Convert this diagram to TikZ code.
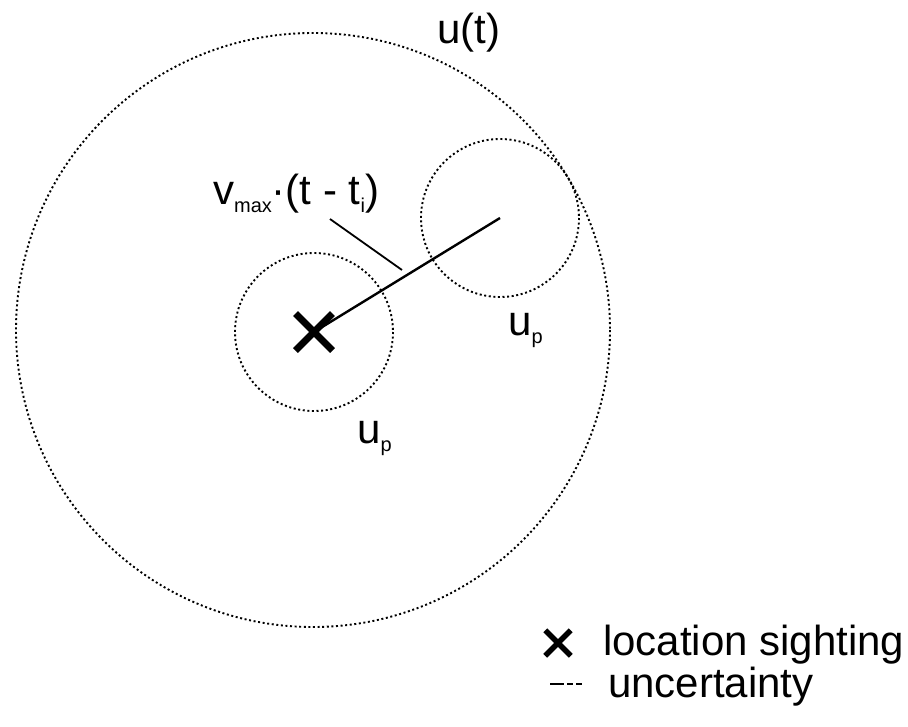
\documentclass[tikz,border=0pt]{standalone}
\usepackage{fontspec}
\setmainfont{Liberation Sans}
\usetikzlibrary{shapes.misc}
\newcommand{\lowsub}[1]{\raisebox{-0.2em}{\fontsize{20}{20}\selectfont #1}}
\tikzset{
  uncert/.style={line width=1.9pt, dash pattern=on 2pt off 2.6pt},
  sighting/.style={cross out, draw, inner sep=0pt, minimum size=30pt, line width=7pt},
  lbl/.style={inner sep=0pt, anchor=base west, font=\fontsize{42}{50}\selectfont}
}
\begin{document}
\begin{tikzpicture}[x=1pt, y=-1pt]
  \useasboundingbox (0,0) rectangle (908,726);
  % Uncertainty regions
  \draw[uncert] (313,330) circle (297);
  \draw[uncert] (314,332) circle (79);
  \draw[uncert] (500,218) circle (79);
  \node[lbl] (ut) at (437,43) {u(t)};
  \node[lbl] (up1) at (357,443) {u\lowsub{p}};
  \node[lbl] (up2) at (508,335) {u\lowsub{p}};

  % Sighting and maximum movement
  \coordinate (reach) at (500,218);
  \node[sighting] (mark) at (314,332) {};
  \draw[line width=2.4pt] (mark.center) -- (reach);
  \node[lbl] (speed) at (213,204) {v\lowsub{max}·(t - t\lowsub{i})};
  \coordinate (tagA) at (330,219);
  \coordinate (tagB) at (402,270);
  \draw[line width=1.8pt] (tagA) -- (tagB);

  % Legend
  \node[sighting, minimum size=20pt, line width=5.5pt] (legmark) at (558,643) {};
  \node[lbl] (legsight) at (603,655) {location sighting};
  \coordinate (legA) at (550,684);
  \coordinate (legB) at (583,684);
  \draw[line width=2.4pt, dash pattern=on 14pt off 3pt on 6pt off 3pt on 6pt off 20pt] (legA) -- (legB);
  \node[lbl] (leguncert) at (608,697) {uncertainty};
\end{tikzpicture}
\end{document}
